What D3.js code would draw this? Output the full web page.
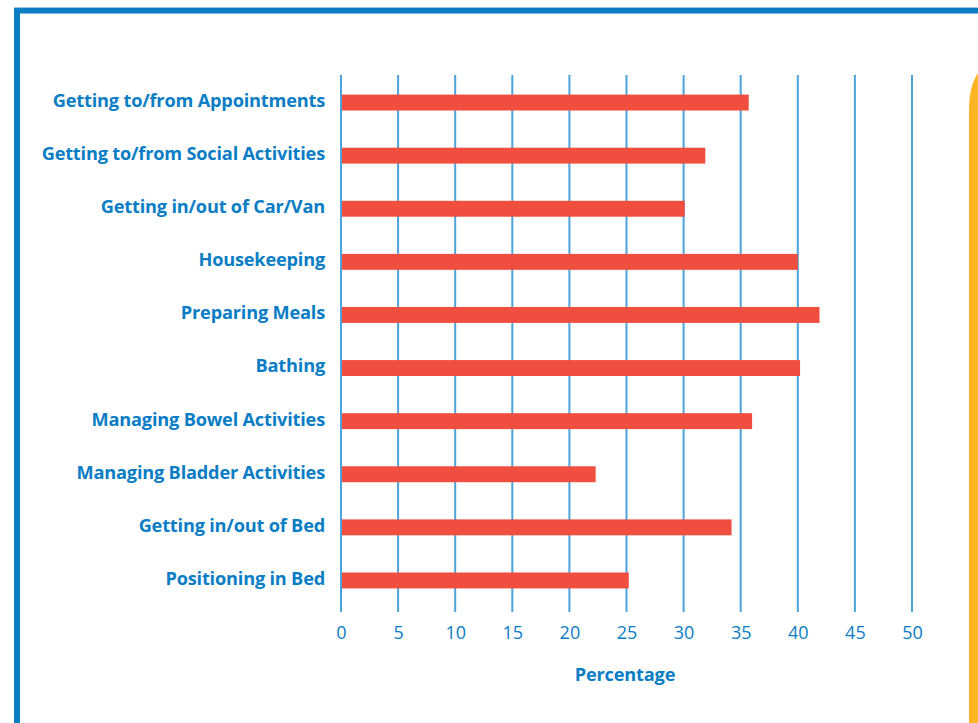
<!DOCTYPE html>
<html>
<head>
<meta charset="utf-8">
<script src="https://cdn.jsdelivr.net/npm/d3@7"></script>
<style>
  body { margin: 0; background: #fff; }
  svg { display: block; }
</style>
</head>
<body>
<script>
// data
var categories = [
  "Getting to/from Appointments",
  "Getting to/from Social Activities",
  "Getting in/out of Car/Van",
  "Housekeeping",
  "Preparing Meals",
  "Bathing",
  "Managing Bowel Activities",
  "Managing Bladder Activities",
  "Getting in/out of Bed",
  "Positioning in Bed"
];
var percentages = [35.7, 31.9, 30.1, 40.0, 41.9, 40.2, 36.0, 22.3, 34.2, 25.2];
var tickValues = [0, 5, 10, 15, 20, 25, 30, 35, 40, 45, 50];

var W = 978, H = 723;
var blue = "#0a7dc5";
var font = "'Open Sans', sans-serif";

var svg = d3.select("body").append("svg")
  .attr("width", W)
  .attr("height", H);

// frame
svg.append("rect").attr("x", 14).attr("y", 7).attr("width", W).attr("height", 1).attr("fill", "#9cc9e8");
svg.append("rect").attr("x", 14).attr("y", 8).attr("width", W).attr("height", 5.5).attr("fill", blue);
svg.append("rect").attr("x", 14).attr("y", 8).attr("width", 6).attr("height", H).attr("fill", blue);

// orange panel on the right
svg.append("path")
  .attr("d", "M969,110 Q969,78 985,66 L985,723 L969,723 Z")
  .attr("fill", "#fdb525");

var x = d3.scaleLinear()
  .domain([0, 50])
  .range([341, 912]);

var y = d3.scaleBand()
  .domain(categories)
  .range([76, 607])
  .paddingInner(0.7)
  .paddingOuter(0.35);

// gridlines
svg.append("g")
  .selectAll("line")
  .data(tickValues)
  .enter()
  .append("line")
    .attr("x1", d => x(d))
    .attr("x2", d => x(d))
    .attr("y1", 75)
    .attr("y2", 612)
    .attr("stroke", "#4ba3db")
    .attr("stroke-width", 2);

// bars
svg.append("g")
  .selectAll("rect")
  .data(percentages)
  .enter()
  .append("rect")
    .attr("x", x(0) + 1)
    .attr("y", (d, i) => y(categories[i]))
    .attr("width", d => x(d) - x(0) - 1)
    .attr("height", y.bandwidth())
    .attr("fill", "#f04e3e");

// category labels
svg.append("g")
  .selectAll("text")
  .data(categories)
  .enter()
  .append("text")
    .attr("x", 325)
    .attr("y", d => y(d) + y.bandwidth() / 2 - 2)
    .attr("dy", "0.35em")
    .attr("text-anchor", "end")
    .attr("fill", blue)
    .style("font-family", font)
    .style("font-weight", "bold")
    .style("font-size", "18.2px")
    .style("letter-spacing", "-0.2px")
    .text(d => d);

// x axis tick labels
var xAxis = svg.append("g")
  .attr("transform", "translate(0,612)")
  .call(d3.axisBottom(x).tickValues(tickValues).tickSize(0).tickPadding(14));
xAxis.select(".domain").remove();
xAxis.selectAll("text")
  .attr("fill", blue)
  .style("font-family", font)
  .style("font-size", "18px");

// x label
svg.append("text")
  .attr("x", 625)
  .attr("y", 681)
  .attr("text-anchor", "middle")
  .attr("fill", blue)
  .style("font-family", font)
  .style("font-weight", "bold")
  .style("font-size", "18.2px")
  .style("letter-spacing", "-0.2px")
  .text("Percentage");
</script>
</body>
</html>
